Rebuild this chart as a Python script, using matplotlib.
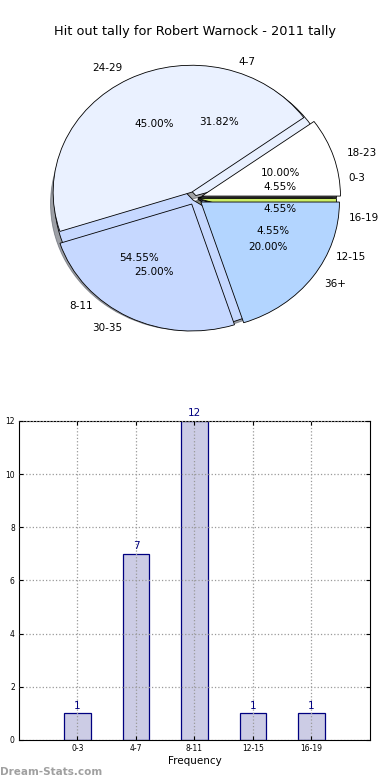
import matplotlib
matplotlib.use("Agg")
import matplotlib.pyplot as plt

# pie data (two sets drawn on top of each other)
tally_labels = ["0-3", "4-7", "8-11", "12-15", "16-19"]
tally_counts = [1, 7, 12, 1, 1]
tally_colors = ["#555555", "#E8F0FF", "#C6D8FF", "#B3D5FF", "#CCEE66"]

age_labels = ["18-23", "24-29", "30-35", "36+"]
age_pct = [10.0, 45.0, 25.0, 20.0]
age_colors = ["#FFFFFF", "#EAF1FF", "#C6D8FF", "#B3D5FF"]

# bar data
bar_labels = ["0-3", "4-7", "8-11", "12-15", "16-19"]
bar_values = [1, 7, 12, 1, 1]

fig = plt.figure(figsize=(3.9, 7.8), dpi=100)
fig.suptitle("Hit out tally for Robert Warnock - 2011 tally", y=0.968, fontsize=9.3)

ax1 = fig.add_axes([0.035, 0.533, 0.93, 0.426])
ax1.pie(tally_counts, labels=tally_labels, colors=tally_colors, autopct="%1.2f%%",
        explode=[0.02] * 5, shadow=True, radius=0.955, textprops={"fontsize": 7.5},
        wedgeprops={"edgecolor": "black", "linewidth": 0.6})
ax1.pie(age_pct, labels=age_labels, colors=age_colors, autopct="%1.2f%%",
        explode=[0.05] * 4, radius=0.955, textprops={"fontsize": 7.5},
        wedgeprops={"edgecolor": "black", "linewidth": 0.6})
ax1.set_aspect("auto")
ax1.set_xlim(-1.25, 1.25)
ax1.set_ylim(-1.25, 1.25)

ax2 = fig.add_axes([0.0487, 0.0513, 0.9, 0.409])
x = list(range(len(bar_values)))
bars = ax2.bar(x, bar_values, width=0.45, color="#CCCCE5", edgecolor="navy", linewidth=0.9, zorder=1)
for xi, v in zip(x, bar_values):
    ax2.text(xi, v + 0.1, str(v), ha="center", va="bottom", color="navy", fontsize=7.5)
ax2.set_xlim(-1, 5)
ax2.set_ylim(0, 12)
ax2.set_xticks(x)
ax2.set_xticklabels(bar_labels)
ax2.set_yticks([0, 2, 4, 6, 8, 10, 12])
ax2.tick_params(direction="in", top=True, right=True, labelsize=5.5, length=3, pad=3)
ax2.grid(True, linestyle=":", color="#999999", linewidth=0.9, zorder=0)
ax2.set_axisbelow(False)
ax2.set_xlabel("Frequency", fontsize=7.5, labelpad=2)
ax2.set_ylabel("Stat Interval", fontsize=7.5)

fig.text(0.0, 0.006, "Dream-Stats.com", color="#A0A0A0", fontsize=7.5, fontweight="bold")

plt.savefig("out.png", dpi=100)
